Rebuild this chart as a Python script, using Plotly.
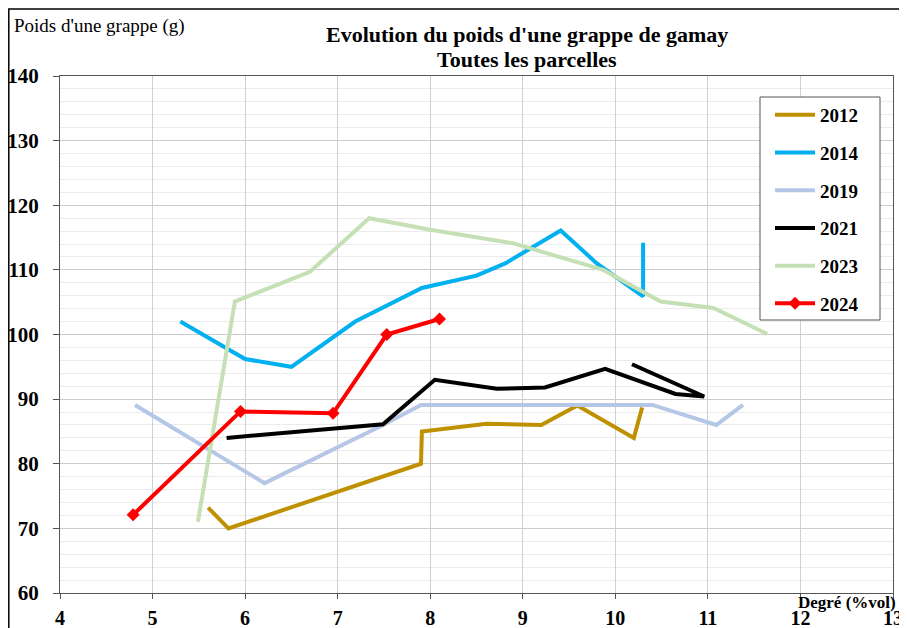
import plotly.graph_objects as go

# ---- data ----
x_2012 = [5.6, 5.82, 7.9, 7.91, 8.61, 9.2, 9.59, 10.2, 10.29]
y_2012 = [73.2, 70.0, 80.0, 85.0, 86.2, 86.0, 89.0, 84.0, 88.7]

x_2014 = [5.3, 6.0, 6.5, 7.19, 7.91, 8.5, 8.81, 9.41, 9.8, 10.3, 10.3]
y_2014 = [102.0, 96.2, 95.0, 102.0, 107.2, 109.1, 111.0, 116.1, 111.0, 105.9, 114.2]

x_2019 = [4.81, 6.21, 7.49, 7.9, 10.4, 11.09, 11.38]
y_2019 = [89.1, 77.0, 86.0, 89.1, 89.1, 86.0, 89.1]

x_2021 = [5.8, 7.49, 8.05, 8.72, 9.24, 9.89, 10.65, 10.96, 10.18]
y_2021 = [84.0, 86.1, 93.0, 91.6, 91.8, 94.7, 90.8, 90.4, 95.4]

x_2023 = [5.49, 5.89, 6.7, 7.34, 8.0, 8.9, 9.87, 10.49, 11.06, 11.64]
y_2023 = [71.0, 105.1, 109.7, 118.0, 116.2, 114.1, 110.0, 105.1, 104.1, 100.1]

x_2024 = [4.79, 5.95, 6.95, 7.53, 8.1]
y_2024 = [72.1, 88.1, 87.8, 100.0, 102.4]

x_ticks = [4, 5, 6, 7, 8, 9, 10, 11, 12, 13]
y_ticks = [60, 70, 80, 90, 100, 110, 120, 130, 140]

series = [
    ("2012", x_2012, y_2012, "#bf9000"),
    ("2014", x_2014, y_2014, "#00b0f0"),
    ("2019", x_2019, y_2019, "#b4c7e7"),
    ("2021", x_2021, y_2021, "#000000"),
    ("2023", x_2023, y_2023, "#c5e0b4"),
]

FONT = "Liberation Serif, Times New Roman, serif"

fig = go.Figure()
for name, xs, ys, col in series:
    fig.add_trace(go.Scatter(x=xs, y=ys, mode="lines", name=name, legendgroup=name,
                             line=dict(color=col, width=4)))
fig.add_trace(go.Scatter(x=x_2024, y=y_2024, mode="lines+markers", name="2024", legendgroup="2024",
                         line=dict(color="#ff0000", width=4),
                         marker=dict(symbol="diamond", size=10, color="#ff0000")))

OFF = 8  # page body margin
W, H = 907, 628
PL, PR, PT, PB = 60, 893, 76, 593  # plot area in page pixels
L = PL - OFF
T = PT - OFF
pw, ph = PR - PL, PB - PT
R = W - L - pw
B = H - T - ph

def px(x):
    return (x - OFF - L) / pw

def py(y):
    return (T + ph - (y - OFF)) / ph

fig.update_layout(
    width=W, height=H,
    margin=dict(l=L, r=R, t=T, b=B, autoexpand=False),
    paper_bgcolor="white", plot_bgcolor="white",
    font=dict(family=FONT, color="black"),
    showlegend=True,
    legend=dict(x=px(770), y=py(96), xanchor="left", yanchor="top",
                borderwidth=0, bgcolor="rgba(0,0,0,0)",
                font=dict(family=FONT, size=19, color="black", weight="bold"),
                tracegroupgap=10, itemwidth=40),
    xaxis=dict(range=[4, 13], tickvals=x_ticks, showgrid=True, gridcolor="#d0d0d0", gridwidth=1,
               showline=True, linecolor="#555555", linewidth=1, mirror=True,
               ticks="outside", ticklen=5, tickcolor="#555555", automargin=False,
               ticklabelstandoff=2,
               tickfont=dict(family=FONT, size=20, weight="bold", color="black"),
               zeroline=False),
    yaxis=dict(range=[60, 140], tickvals=y_ticks, showgrid=True, gridcolor="#cccccc", gridwidth=1,
               minor=dict(dtick=2, showgrid=True, gridcolor="#ebebeb", gridwidth=1),
               showline=True, linecolor="#555555", linewidth=1, mirror=True,
               ticks="outside", ticklen=6, tickcolor="#555555", automargin=False,
               tickfont=dict(family=FONT, size=21, weight="bold", color="black"),
               ticklabelstandoff=10, zeroline=False),
)

fig.add_annotation(xref="paper", yref="paper", x=px(527), y=py(35), xanchor="center", yanchor="middle",
                   text="<b>Evolution du poids d'une grappe de gamay</b>",
                   showarrow=False, font=dict(family=FONT, size=22, color="black"))
fig.add_annotation(xref="paper", yref="paper", x=px(527), y=py(60), xanchor="center", yanchor="middle",
                   text="<b>Toutes les parcelles</b>",
                   showarrow=False, font=dict(family=FONT, size=22, color="black"))
fig.add_annotation(xref="paper", yref="paper", x=px(12), y=py(26), xanchor="left", yanchor="middle",
                   text="Poids d'une grappe (g)", showarrow=False,
                   font=dict(family=FONT, size=19, color="black"))
fig.add_annotation(xref="paper", yref="paper", x=px(898), y=py(602), xanchor="right", yanchor="middle",
                   text="<b>Degré (%vol)</b>", showarrow=False,
                   font=dict(family=FONT, size=17, color="black"))

# outer chart frame
fig.add_shape(type="rect", xref="paper", yref="paper",
              x0=px(8.8), x1=px(904), y0=py(680), y1=py(9),
              line=dict(color="black", width=1.5), fillcolor="rgba(0,0,0,0)", layer="below")
# legend frame
fig.add_shape(type="rect", xref="paper", yref="paper",
              x0=px(760), x1=px(880), y0=py(320), y1=py(97),
              line=dict(color="#555555", width=1), fillcolor="white", layer="above")

fig.write_html("out.html")
